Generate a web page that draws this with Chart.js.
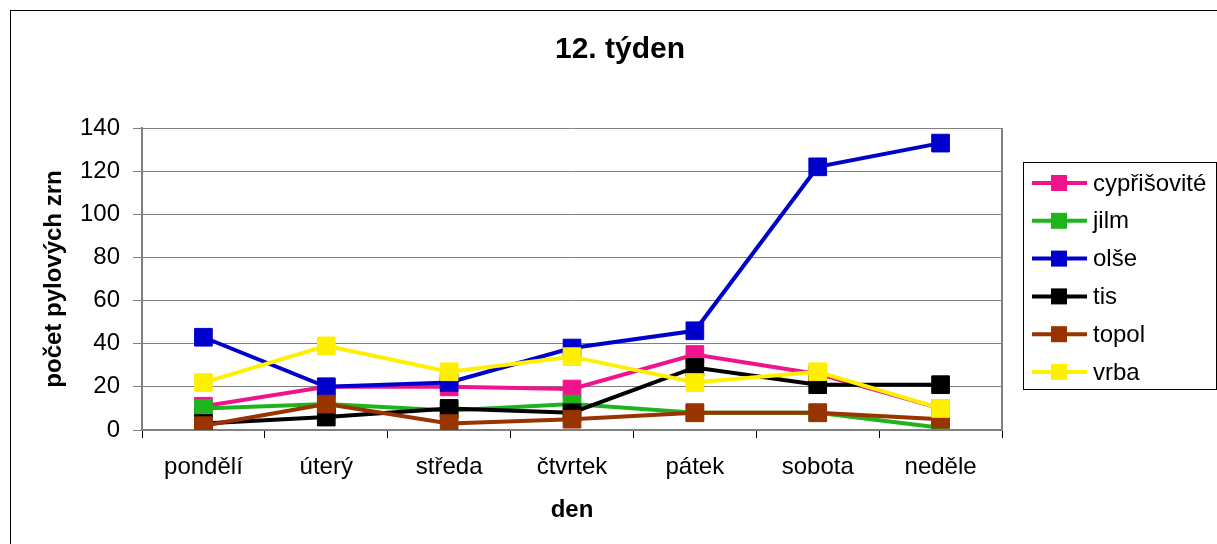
<!DOCTYPE html>
<html lang="cs">
<head>
  <meta charset="UTF-8" />
  <title>12. týden</title>
  <script src="https://cdn.jsdelivr.net/npm/chart.js"></script>
  <style>
    html, body { margin: 0; padding: 0; background: #fff; }
    #wrap { width: 1217px; height: 544px; position: relative; }
  </style>
</head>
<body>
  <div id="wrap"><canvas id="pylChart"></canvas></div>

  <script>
    // data
    const days = ['pondělí', 'úterý', 'středa', 'čtvrtek', 'pátek', 'sobota', 'neděle'];
    const cyprisovite = [11, 20, 20, 19, 35, 26, 10];
    const jilm = [10, 12, 9, 12, 8, 8, 1];
    const olse = [43, 20, 22, 38, 46, 122, 133];
    const tis = [3, 6, 10, 8, 29, 21, 21];
    const topol = [2, 12, 3, 5, 8, 8, 5];
    const vrba = [22, 39, 27, 34, 22, 27, 10];

    const FONT = "'Liberation Sans', Arial, sans-serif";
    Chart.defaults.font.family = FONT;
    Chart.defaults.font.size = 24;
    Chart.defaults.color = '#000';

    function series(label, data, color, order) {
      return {
        label: label,
        data: data,
        borderColor: color,
        backgroundColor: color,
        borderWidth: 4,
        pointStyle: 'rect',
        pointRadius: 12.5,
        pointHoverRadius: 12.5,
        pointBorderWidth: 1,
        pointBorderColor: color,
        pointBackgroundColor: color,
        tension: 0,
        order: order
      };
    }

    // frame, title, plot border and legend
    const decor = {
      id: 'decor',
      beforeDraw(chart) {
        const ctx = chart.ctx;
        ctx.save();
        ctx.strokeStyle = '#000';
        ctx.lineWidth = 1;
        ctx.strokeRect(10.5, 10.5, 1400, 700);
        ctx.restore();
      },
      afterDraw(chart) {
        const ctx = chart.ctx;
        const a = chart.chartArea;
        ctx.save();
        // right border of the plot area
        ctx.strokeStyle = '#808080';
        ctx.lineWidth = 2;
        ctx.beginPath();
        ctx.moveTo(a.right, a.top);
        ctx.lineTo(a.right, a.bottom);
        ctx.stroke();

        // title
        ctx.fillStyle = '#000';
        ctx.font = 'bold 30px ' + FONT;
        ctx.textAlign = 'center';
        ctx.textBaseline = 'middle';
        ctx.fillText('12. týden', 620, 50);

        // legend
        ctx.strokeStyle = '#000';
        ctx.lineWidth = 1;
        ctx.strokeRect(1023.5, 162.5, 193, 227);
        ctx.font = '24px ' + FONT;
        ctx.textAlign = 'left';
        chart.data.datasets.forEach((ds, i) => {
          const y = 183 + i * 37.8;
          ctx.strokeStyle = ds.borderColor;
          ctx.lineWidth = 4;
          ctx.beginPath();
          ctx.moveTo(1032, y);
          ctx.lineTo(1087, y);
          ctx.stroke();
          ctx.fillStyle = ds.borderColor;
          ctx.fillRect(1059 - 8, y - 8, 16, 16);
          ctx.fillStyle = '#000';
          ctx.fillText(ds.label, 1093, y + 1);
        });
        ctx.restore();
      }
    };

    new Chart(document.getElementById('pylChart'), {
      type: 'line',
      data: {
        labels: days,
        datasets: [
          series('cypřišovité', cyprisovite, '#f0148c', 5),
          series('jilm', jilm, '#1eb41e', 4),
          series('olše', olse, '#0000cc', 3),
          series('tis', tis, '#000000', 2),
          series('topol', topol, '#993300', 1),
          series('vrba', vrba, '#fff000', 0)
        ]
      },
      options: {
        responsive: true,
        maintainAspectRatio: false,
        animation: false,
        layout: { padding: { top: 128, right: 215, bottom: 0, left: 0 } },
        plugins: {
          legend: { display: false },
          title: { display: false },
          tooltip: { enabled: false }
        },
        scales: {
          x: {
            offset: true,
            grid: { offset: true, drawOnChartArea: false, tickLength: 8, color: '#000' },
            border: { color: '#808080', width: 2 },
            ticks: { padding: 15, maxRotation: 0, font: { size: 24 } },
            title: { display: true, text: 'den', font: { size: 24, weight: 'bold' }, padding: { top: 0, bottom: 19 } },
            afterFit(scale) { scale.height = 114; }
          },
          y: {
            min: 0,
            max: 140,
            ticks: { stepSize: 20, padding: 13, font: { size: 24 } },
            grid: { color: '#808080', lineWidth: 1, tickLength: 9 },
            border: { color: '#808080', width: 2 },
            title: { display: true, text: 'počet pylových zrn', font: { size: 24, weight: 'bold' }, padding: { top: 40, bottom: 0 } },
            afterFit(scale) { scale.width = 142; }
          }
        }
      },
      plugins: [decor]
    });
  </script>
</body>
</html>
